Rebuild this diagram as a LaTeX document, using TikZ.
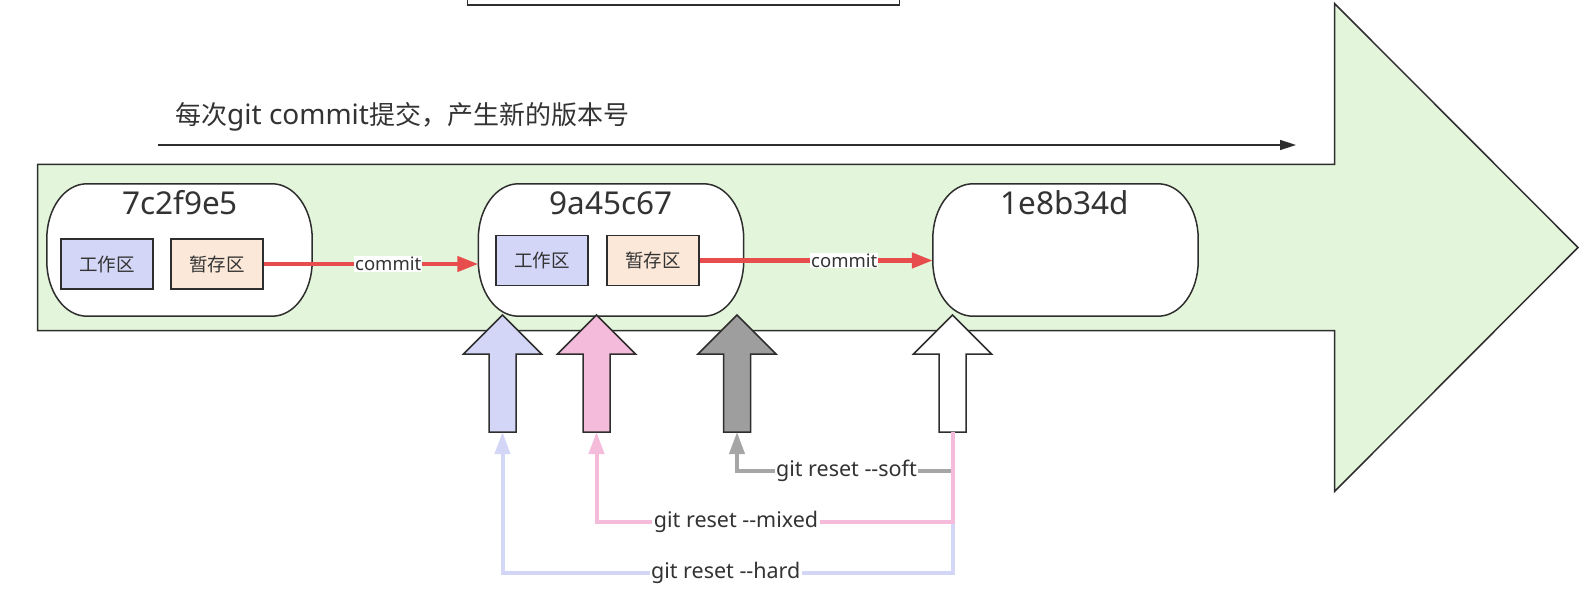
\documentclass[tikz,border=0pt]{standalone}
\usepackage{fontspec}
\setmainfont{Noto Sans}
\newfontfamily\cjk{Noto Sans CJK SC}
\usetikzlibrary{arrows.meta,calc}
\definecolor{dk}{HTML}{2E2E2E}
\definecolor{txt}{HTML}{333333}
\definecolor{bgreen}{HTML}{E3F5DA}
\definecolor{lav}{HTML}{D3D6F7}
\definecolor{peach}{HTML}{FBE8D8}
\definecolor{pinkf}{HTML}{F5BBDB}
\definecolor{greyf}{HTML}{9E9E9E}
\definecolor{cred}{HTML}{E84D4D}
\definecolor{greyl}{HTML}{A6A6A6}
\newcommand\capsule[1]{%
 \path[draw=dk, line width=1.5pt, fill=white] let \p1=(#1.north west), \p2=(#1.south east) in
  (\x1+40pt,\y1) -- (\x2-40pt,\y1)
  .. controls (\x2-17.9pt,\y1) and (\x2,\y1-24.6pt) .. (\x2,\y1-55pt)
  -- (\x2,\y2+55pt)
  .. controls (\x2,\y2+24.6pt) and (\x2-17.9pt,\y2) .. (\x2-40pt,\y2)
  -- (\x1+40pt,\y2)
  .. controls (\x1+17.9pt,\y2) and (\x1,\y2+24.6pt) .. (\x1,\y2+55pt)
  -- (\x1,\y1-55pt)
  .. controls (\x1,\y1-24.6pt) and (\x1+17.9pt,\y1) .. (\x1+40pt,\y1) -- cycle;}
\newcommand\blockup[3]{%
 \draw[draw=dk, line width=1.5pt, line join=miter, fill=#2]
  (#1-13.5,432) -- (#1-13.5,354) -- (#1-39,354) -- (#1,315) -- (#1+39,354) -- (#1+13.5,354) -- (#1+13.5,432) -- cycle;
 \coordinate (#3) at (#1,432);}
\begin{document}
\begin{tikzpicture}[x=1pt,y=-1pt,
  capnode/.style={minimum width=265pt, minimum height=132pt, inner sep=0pt},
  area/.style={draw=dk, line width=1.5pt, minimum width=92pt, minimum height=50pt, inner sep=0pt, font=\cjk\fontsize{18.5}{20}\selectfont, text=txt},
  title/.style={font=\fontsize{31.5}{34}\selectfont, text=txt, inner sep=0pt},
  commitarrow/.style={draw=cred, line width=4.5pt, -{Triangle[length=21pt,width=15pt]}},
  clabel/.style={fill=white, inner sep=1pt, font=\fontsize{18.5}{20}\selectfont, text=txt},
  reset/.style={line width=4pt, -{Triangle[length=22pt,width=15pt]}},
  rlabel/.style={fill=white, inner sep=1.5pt, font=\fontsize{21.5}{24}\selectfont, text=txt},
]
\useasboundingbox (0,0) rectangle (1583,599);
\clip (0,0) rectangle (1583,599);
% top partial box
\draw[draw=dk, line width=1.5pt, fill=white] (467.5,-10) rectangle (899.5,5);
% big green arrow
\draw[draw=dk, line width=1.5pt, fill=bgreen, line join=miter]
  (37.5,164.5) -- (1334.5,164.5) -- (1334.5,3.5) -- (1578,247.5) -- (1334.5,491.5) -- (1334.5,330.5) -- (37.5,330.5) -- cycle;
% timeline arrow and caption
\coordinate (tl0) at (158,145);
\coordinate (tl1) at (1296,145);
\draw[draw=dk, line width=1.5pt, -{Triangle[length=16pt,width=10pt]}] (tl0) -- (tl1);
\node[anchor=west, inner sep=0pt, text=txt, font=\fontsize{26}{28}\selectfont] (cap) at (175,117) {{\cjk 每次}{\fontsize{28}{30}\selectfont git commit}{\cjk 提交，产生新的版本号}};
% capsules
\node[capnode] (c1) at (179.5,250) {};
\node[capnode] (c2) at (611,250) {};
\node[capnode] (c3) at (1065.5,250) {};
\capsule{c1}\capsule{c2}\capsule{c3}
\node[title] (t1) at (180,203) {7c2f9e5};
\node[title] (t2) at (611,203) {9a45c67};
\node[title] (t3) at (1065,203) {1e8b34d};
\node[area, fill=lav] (w1) at (107,264) {工作区};
\node[area, fill=peach] (s1) at (217,264) {暂存区};
\node[area, fill=lav] (w2) at (542,260.5) {工作区};
\node[area, fill=peach] (s2) at (653,260.5) {暂存区};
\draw[commitarrow] (s1.east) -- (s1.east -| c2.west) node[clabel, pos=0.58] {commit};
\draw[commitarrow] (s2.east) -- (s2.east -| c3.west) node[clabel, pos=0.62] {commit};
% block arrows
\blockup{502.5}{lav}{ab}
\blockup{596.5}{pinkf}{ap}
\blockup{737}{greyf}{ag}
\blockup{952.5}{white}{aw}
% reset connectors
\draw[reset, draw=lav, color=lav] (aw) -- ++(0,141) -| (ab) node[rlabel, pos=0.252] {git reset -{}-hard};
\draw[reset, draw=greyl, color=greyl] (aw) -- ++(0,39) -| (ag) node[rlabel, pos=0.246] {git reset -{}-soft};
\draw[reset, draw=pinkf, color=pinkf] (aw) -- ++(0,90) -| (ap) node[rlabel, pos=0.304] {git reset -{}-mixed};
\end{tikzpicture}
\end{document}
